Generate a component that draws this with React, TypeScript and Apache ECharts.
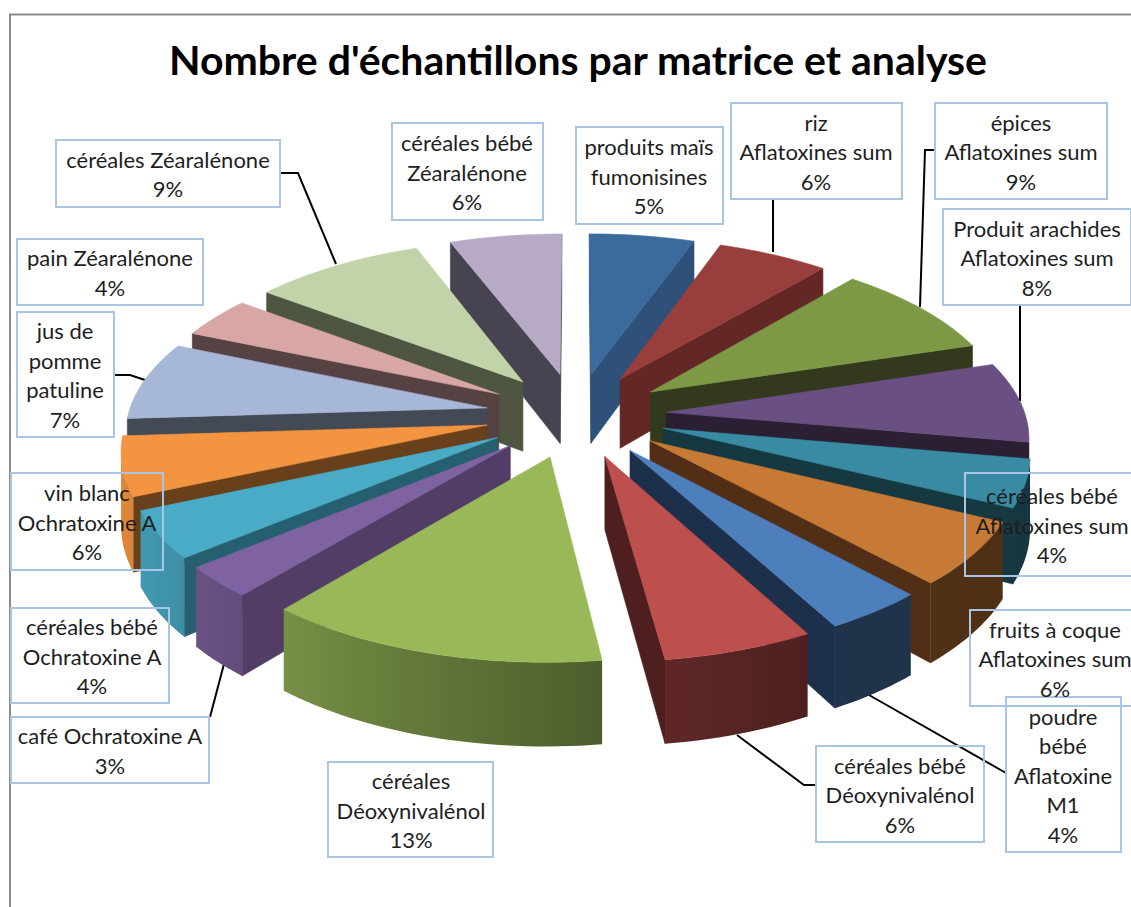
import React, { useEffect, useRef } from "react";
import * as echarts from "echarts";

const titleText = "Nombre d'échantillons par matrice et analyse";

const sliceNames = [
  "produits maïs\nfumonisines",
  "riz\nAflatoxines sum",
  "épices\nAflatoxines sum",
  "Produit arachides\nAflatoxines sum",
  "céréales bébé\nAflatoxines sum",
  "fruits à coque\nAflatoxines sum",
  "poudre\nbébé\nAflatoxine\nM1",
  "céréales bébé\nDéoxynivalénol",
  "céréales\nDéoxynivalénol",
  "café Ochratoxine A",
  "céréales bébé\nOchratoxine A",
  "vin blanc\nOchratoxine A",
  "jus de\npomme\npatuline",
  "pain Zéaralénone",
  "céréales Zéaralénone",
  "céréales bébé\nZéaralénone",
];
const sliceValues = [5.44, 5.76, 9.0, 7.6, 4.45, 5.95, 3.9, 5.8, 13.16, 2.94, 4.45, 5.55, 7.4, 3.9, 8.9, 5.8];
const percentLabels = ["5%", "6%", "9%", "8%", "4%", "6%", "4%", "6%", "13%", "3%", "4%", "6%", "7%", "4%", "9%", "6%"];

const topColors = [
  "#3B6A9C", "#983F3D", "#7E9945", "#694F82", "#398BA3", "#C67A36",
  "#4D7FBC", "#BD4F4C", "#99B958", "#7F62A0", "#49ABC5", "#F39440",
  "#A7B7D8", "#D7A6A5", "#C3D3A9", "#B6AAC6",
];
const wallColors = [
  "#2F5078", "#632826", "#33391C", "#2A1F33", "#163840", "#532E16",
  "#1C304C", "#4E1F1E", "#4F5F2D", "#523D66", "#265F70", "#69401C",
  "#434955", "#564242", "#4E5541", "#474350",
];

// label box layout: x0, y0, x1, y1
const labelBoxes = [
  [576, 127, 723, 224], [731, 103, 902, 199], [935, 103, 1107, 199], [943, 209, 1131, 305],
  [965, 473, 1140, 576], [970, 610, 1140, 706], [1006, 697, 1121, 852], [816, 746, 984, 842],
  [328, 762, 493, 857], [11, 717, 209, 783], [11, 608, 169, 703], [11, 473, 163, 570],
  [17, 312, 114, 437], [17, 239, 203, 305], [56, 140, 280, 207], [392, 123, 543, 220],
];
const labelCentersX = [649, 816, 1021, 1037, 1052, 1055, 1063, 900, 411, 110, 92, 87, 65, 110, 168, 467];
const leaderLines = [
  [[773, 199], [773, 252]],
  [[935, 150], [925, 150], [920, 307]],
  [[1020, 305], [1020, 401]],
  [[1006, 773], [869, 695]],
  [[816, 785], [804, 785], [737, 735]],
  [[210, 717], [224, 664]],
  [[114, 375], [130, 375], [145, 380]],
  [[280, 173], [298, 173], [336, 264]],
];

const CX = 576, CY = 415, SCALE_X = 370, SCALE_Y = 173, PERSP = 0.13, DEPTH = 71, EXPLODE = 0.245, RADIUS = 0.97;

function project(X: number, Y: number, down: boolean): [number, number] {
  const w = 1 - PERSP * Y;
  const sx = CX + (SCALE_X * X) / w;
  const sy = CY + (SCALE_Y * Y) / w + (down ? DEPTH / w : 0);
  return [sx, sy];
}

function shadeFactor(deg: number): number {
  const stops = [[0, 0.38], [150, 0.4], [172, 0.5], [220, 0.78], [240, 0.88], [270, 0.95], [360, 0.95]];
  for (let i = 1; i < stops.length; i++) {
    if (deg <= stops[i][0]) {
      const t = (deg - stops[i - 1][0]) / (stops[i][0] - stops[i - 1][0]);
      return stops[i - 1][1] + t * (stops[i][1] - stops[i - 1][1]);
    }
  }
  return 0.95;
}

function scaleColor(hex: string, f: number): string {
  const n = parseInt(hex.slice(1), 16);
  const r = Math.round(((n >> 16) & 255) * f);
  const g = Math.round(((n >> 8) & 255) * f);
  const b = Math.round((n & 255) * f);
  return `rgb(${r},${g},${b})`;
}

function area(p: number[][]): number {
  let s = 0;
  for (let i = 0; i < p.length; i++) {
    const q = p[(i + 1) % p.length];
    s += p[i][0] * q[1] - q[0] * p[i][1];
  }
  return s;
}

const total = sliceValues.reduce((a, b) => a + b, 0);
const starts: number[] = [];
sliceValues.reduce((acc, v, i) => {
  starts[i] = acc;
  return acc + v;
}, 0);
const bisectorY = sliceValues.map((v, i) => -Math.cos((((starts[i] + v / 2) / total) * 360 * Math.PI) / 180));
const order = bisectorY.map((y, i) => [y, i]).sort((a, b) => a[0] - b[0]).map((d) => d[1]);

function renderSlice(params: any, api: any) {
  const i = params.dataIndex;
  const value = api.value(0);
  const a0 = (starts[i] / total) * 360;
  const a1 = a0 + (value / total) * 360;
  const mid = (((a0 + a1) / 2) * Math.PI) / 180;
  const ox = EXPLODE * Math.sin(mid);
  const oy = -EXPLODE * Math.cos(mid);
  const rank = order.indexOf(i) * 10 + 10;
  const steps = Math.max(2, Math.ceil((a1 - a0) / 1.5));
  const rim: number[][] = [];
  const rimAngles: number[] = [];
  for (let s = 0; s <= steps; s++) {
    const deg = a0 + ((a1 - a0) * s) / steps;
    const rad = (deg * Math.PI) / 180;
    rim.push([ox + RADIUS * Math.sin(rad), oy - RADIUS * Math.cos(rad)]);
    rimAngles.push(deg);
  }
  const apex = [ox, oy];
  const children: any[] = [];
  const poly = (pts: number[][], fill: any, z2: number) => ({
    type: "polygon",
    z2,
    silent: true,
    shape: { points: pts },
    style: { fill, stroke: typeof fill === "string" ? fill : "none", lineWidth: 0.6 },
  });
  const quad = (p: number[], q: number[]) => [
    project(p[0], p[1], false),
    project(q[0], q[1], false),
    project(q[0], q[1], true),
    project(p[0], p[1], true),
  ];
  const startWall = quad(apex, rim[0]);
  if (area(startWall) < 0) children.push(poly(startWall, wallColors[i], rank));
  const endWall = quad(rim[rim.length - 1], apex);
  if (area(endWall) < 0) children.push(poly(endWall, wallColors[i], rank));

  // the visible part of the rounded outer wall, as one shape with a gradient
  const visible: number[] = [];
  for (let s = 0; s < steps; s++) {
    if (area(quad(rim[s], rim[s + 1])) < 0) visible.push(s);
  }
  if (visible.length) {
    const first = visible[0];
    const last = visible[visible.length - 1] + 1;
    const upper: number[][] = [];
    const lower: number[][] = [];
    for (let s = first; s <= last; s++) {
      upper.push(project(rim[s][0], rim[s][1], false));
      lower.unshift(project(rim[s][0], rim[s][1], true));
    }
    const x0 = upper[0][0];
    const x1 = upper[upper.length - 1][0];
    const colorStops: any[] = [];
    for (let s = first; s <= last; s++) {
      const offset = Math.abs(x1 - x0) < 1e-6 ? 0 : (upper[s - first][0] - x0) / (x1 - x0);
      colorStops.push({ offset: Math.min(1, Math.max(0, offset)), color: scaleColor(topColors[i], shadeFactor(rimAngles[s])) });
    }
    const fill = { type: "linear", x: x0, y: 0, x2: x1 === x0 ? x0 + 1 : x1, y2: 0, global: true, colorStops };
    children.push(poly([...upper, ...lower], fill, rank));
  }
  const top = [project(apex[0], apex[1], false), ...rim.map((p) => project(p[0], p[1], false))];
  children.push(poly(top, topColors[i], rank + 1));
  return { type: "group", children };
}

export default function App() {
  const ref = useRef<HTMLDivElement>(null);
  useEffect(() => {
    document.body.style.margin = "0";
    const chart = echarts.init(ref.current!, undefined, { renderer: "svg" });
    const graphics: any[] = [
      {
        type: "polyline",
        z: 0,
        silent: true,
        shape: { points: [[10, 907], [10, 14.5], [1131, 14.5]] },
        style: { stroke: "#8C8C8C", lineWidth: 2, fill: "none" },
      },
    ];
    leaderLines.forEach((pts) =>
      graphics.push({
        type: "polyline",
        z: 1,
        silent: true,
        shape: { points: pts },
        style: { stroke: "#000000", lineWidth: 2, fill: "none" },
      })
    );
    labelBoxes.forEach((b, i) => {
      graphics.push({
        type: "rect",
        z: 20,
        silent: true,
        shape: { x: b[0], y: b[1], width: b[2] - b[0], height: b[3] - b[1] },
        style: { fill: "none", stroke: "#A9C4E4", lineWidth: 2 },
      });
      graphics.push({
        type: "text",
        z: 21,
        silent: true,
        x: labelCentersX[i],
        y: (b[1] + b[3]) / 2 + 0.5,
        style: {
          text: sliceNames[i] + "\n" + percentLabels[i],
          fill: "#1E1E1E",
          font: "22px Lato",
          lineHeight: 29.5,
          align: "center",
          verticalAlign: "middle",
        },
      });
    });
    chart.setOption({
      animation: false,
      backgroundColor: "#ffffff",
      title: {
        text: titleText,
        left: 164,
        top: 34,
        textStyle: { fontFamily: "Lato", fontSize: 41, fontWeight: "bold", color: "#000000" },
      },
      series: [
        {
          type: "custom",
          coordinateSystem: "none",
          z: 5,
          silent: true,
          renderItem: renderSlice,
          data: sliceValues.map((v, i) => ({ name: sliceNames[i].replace(/\n/g, " "), value: [v] })),
        },
      ],
      graphic: graphics,
    });
    return () => chart.dispose();
  }, []);
  return <div ref={ref} style={{ position: "absolute", left: 0, top: 0, width: 1131, height: 907 }} />;
}
